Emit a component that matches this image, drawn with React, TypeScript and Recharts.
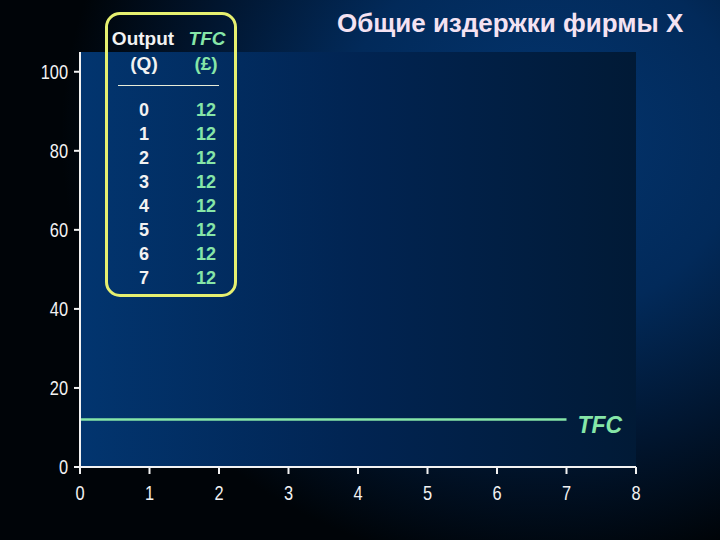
import { LineChart, Line, XAxis, YAxis, ReferenceArea } from 'recharts';

const outputs = [0, 1, 2, 3, 4, 5, 6, 7];
const tfcValues = [12, 12, 12, 12, 12, 12, 12, 12];
const xTicks = [0, 1, 2, 3, 4, 5, 6, 7, 8];
const yTicks = [0, 20, 40, 60, 80, 100];
const title = 'Общие издержки фирмы X';

const GREEN = '#86e6a8';
const WHITE = '#f2f2f2';
const textFont = "'Liberation Sans', Arial, sans-serif";

const data = outputs.map((q, i) => ({ q, tfc: tfcValues[i] }));

// narrow-looking tick labels, squeezed Liberation Sans
const XTick = (props: any) => (
  <text transform={`translate(${props.x},${props.y}) scale(0.82,1)`} textAnchor="middle"
    dy="0.72em" fill={WHITE} fontSize={20} fontFamily={textFont}>
    {props.payload.value}
  </text>
);

const YTick = (props: any) => (
  <text transform={`translate(${props.x},${props.y}) scale(0.82,1)`} textAnchor="end"
    dy="0.36em" fill={WHITE} fontSize={20} fontFamily={textFont}>
    {props.payload.value}
  </text>
);

const TfcLabel = (props: any) => {
  if (props.index !== data.length - 1) return <g />;
  return (
    <text x={props.x + 11} y={props.y + 13} fill={GREEN} fontSize={23}
      fontStyle="italic" fontWeight="bold" fontFamily={textFont}>
      TFC
    </text>
  );
};

const DataTable = () => (
  <div style={{
    position: 'absolute', left: 105, top: 12, width: 126, height: 279,
    border: '3px solid #e6f070', borderRadius: 15, fontFamily: textFont,
    color: WHITE, fontWeight: 'bold',
  }}>
    <div style={{ position: 'absolute', left: 0, top: 13, width: 70, textAlign: 'center', fontSize: 19 }}>Output</div>
    <div style={{ position: 'absolute', left: 0, top: 38, width: 72, textAlign: 'center', fontSize: 19 }}>(Q)</div>
    <div style={{ position: 'absolute', left: 78, top: 13, width: 42, textAlign: 'center', fontSize: 19, color: GREEN, fontStyle: 'italic' }}>TFC</div>
    <div style={{ position: 'absolute', left: 77, top: 38, width: 42, textAlign: 'center', fontSize: 19, color: GREEN }}>(£)</div>
    <div style={{ position: 'absolute', left: 10, top: 70, width: 101, height: 1, background: '#e8ecd8' }} />
    {outputs.map((q, i) => (
      <div key={q} style={{ position: 'absolute', left: 0, top: 85 + i * 24, width: '100%', fontSize: 18 }}>
        <span style={{ position: 'absolute', left: 0, width: 72, textAlign: 'center' }}>{q}</span>
        <span style={{ position: 'absolute', left: 77, width: 42, textAlign: 'center', color: GREEN }}>{tfcValues[i]}</span>
      </div>
    ))}
  </div>
);

export default function App() {
  return (
    <div style={{
      position: 'absolute', left: 0, top: 0, width: 720, height: 540, overflow: 'hidden',
      background: 'radial-gradient(ellipse 70% 85% at 75% 25%, #03356f 0%, #022a5a 40%, #01152e 70%, #000408 95%)',
    }}>
      <LineChart width={720} height={540} data={data}
        margin={{ top: 52, right: 84, bottom: 0, left: 0 }}>
        <defs>
          <linearGradient id="plotFill" x1="0" y1="0" x2="1" y2="0">
            <stop offset="0%" stopColor="#02356f" />
            <stop offset="50%" stopColor="#012452" />
            <stop offset="100%" stopColor="#011a36" />
          </linearGradient>
        </defs>
        <ReferenceArea x1={0} x2={8} y1={0} y2={105} fill="url(#plotFill)" fillOpacity={1} stroke="none" />
        <XAxis dataKey="q" type="number" domain={[0, 8]} ticks={xTicks} height={73}
          stroke={WHITE} strokeWidth={2} tickSize={7} tickMargin={12} tick={XTick} />
        <YAxis type="number" domain={[0, 105]} ticks={yTicks} width={80}
          stroke={WHITE} strokeWidth={2} tickSize={6} tickMargin={6} tick={YTick} />
        <Line dataKey="tfc" stroke={GREEN} strokeWidth={2.5} dot={false}
          isAnimationActive={false} label={TfcLabel} />
      </LineChart>
      <DataTable />
      <div style={{
        position: 'absolute', left: 337, top: 8, fontFamily: textFont, fontWeight: 'bold',
        fontSize: 26, color: '#f4e2f2', whiteSpace: 'nowrap',
      }}>
        {title}
      </div>
    </div>
  );
}
